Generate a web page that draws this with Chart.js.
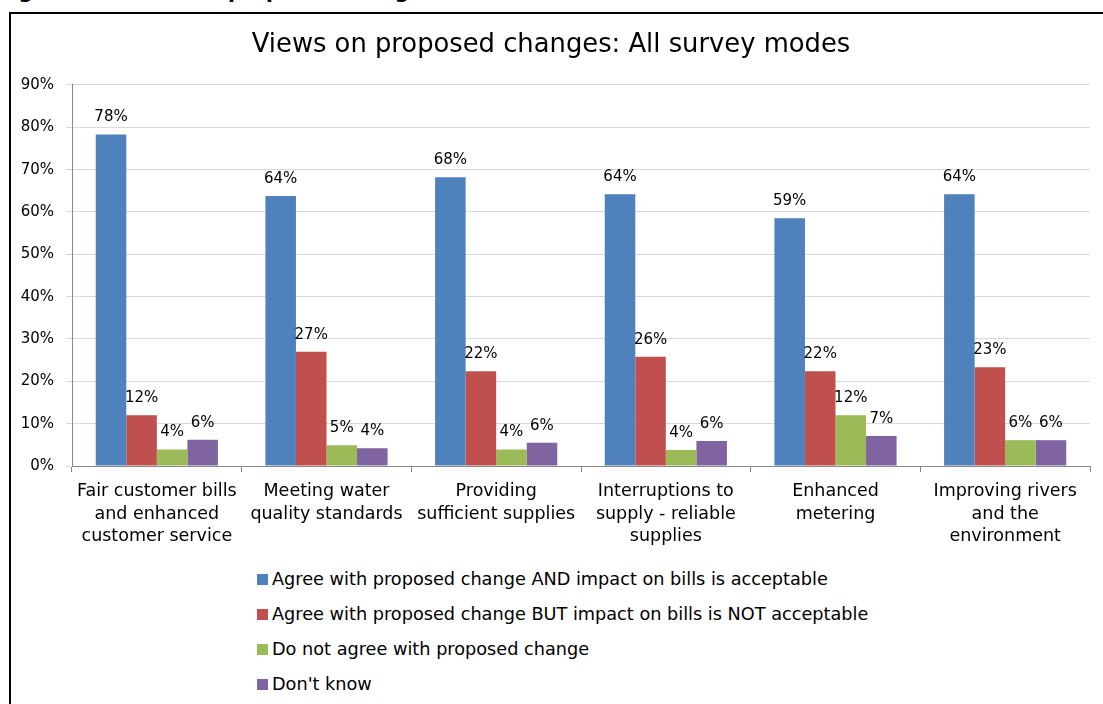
<!DOCTYPE html>
<html>
<head>
<meta charset="utf-8">
<script src="https://cdn.jsdelivr.net/npm/chart.js@4/dist/chart.umd.min.js"></script>
<style>
  body { margin: 0; background: #fff; width: 1103px; height: 704px; overflow: hidden; position: relative; font-family: "DejaVu Sans", sans-serif; }
  #caption { position: absolute; left: -2px; top: -21px; font: bold 20px "DejaVu Sans", sans-serif; color: #000; white-space: nowrap; }
  #frame { position: absolute; left: 9px; top: 12px; width: 1200px; height: 800px; border: 2px solid #000; }
  #healthChart { position: absolute; left: 12px; top: 14px; }
  #legendContainer { position: absolute; left: 257px; top: 566px; }
  .legend-item { height: 35px; line-height: 26px; font-size: 17.7px; color: #000; white-space: nowrap; }
  .legend-color { display: inline-block; width: 11px; height: 11px; margin-right: 4px; vertical-align: 0px; }
</style>
</head>
<body>
<div id="caption">Figure 10: Views on proposed changes</div>
<div id="frame"></div>
<canvas id="healthChart" width="1091" height="546"></canvas>
<div id="legendContainer"></div>
<script>
  // categories and series (percent)
  var categories = [
    ['Fair customer bills', 'and enhanced', 'customer service'],
    ['Meeting water', 'quality standards'],
    ['Providing', 'sufficient supplies'],
    ['Interruptions to', 'supply - reliable', 'supplies'],
    ['Enhanced', 'metering'],
    ['Improving rivers', 'and the', 'environment']
  ];
  var seriesNames = [
    'Agree with proposed change AND impact on bills is acceptable',
    'Agree with proposed change BUT impact on bills is NOT acceptable',
    'Do not agree with proposed change',
    "Don't know"
  ];
  var agreeAcceptable = [78.3, 63.8, 68.2, 64.2, 58.5, 64.2];
  var agreeNotAcceptable = [12.0, 27.0, 22.4, 25.8, 22.4, 23.3];
  var notAgree = [3.9, 4.9, 3.9, 3.8, 12.0, 6.1];
  var dontKnow = [6.2, 4.2, 5.5, 5.9, 7.1, 6.1];
  var yTicks = [0, 10, 20, 30, 40, 50, 60, 70, 80, 90];

  var seriesColors = ['#4F81BD', '#C0504D', '#9BBB59', '#8064A2'];
  var seriesData = [agreeAcceptable, agreeNotAcceptable, notAgree, dontKnow];

  // draws the rounded value above each bar
  var valueLabels = {
      id: 'valueLabels',
      afterDatasetsDraw: function(chart) {
          var ctx = chart.ctx;
          ctx.save();
          ctx.font = '15px "DejaVu Sans", sans-serif';
          ctx.fillStyle = '#000';
          ctx.textAlign = 'center';
          ctx.textBaseline = 'alphabetic';
          chart.data.datasets.forEach(function(ds, i) {
              chart.getDatasetMeta(i).data.forEach(function(bar, j) {
                  ctx.fillText(Math.round(ds.data[j]) + '%', bar.x, bar.y - 13);
              });
          });
          ctx.restore();
      }
  };

  var ctx = document.getElementById('healthChart').getContext('2d');
  var chart = new Chart(ctx, {
      type: 'bar',
      data: {
          labels: categories,
          datasets: seriesData.map(function(d, i) {
              return {
                  label: seriesNames[i],
                  data: d,
                  backgroundColor: seriesColors[i],
                  categoryPercentage: 0.72,
                  barPercentage: 1.0
              };
          })
      },
      options: {
          responsive: false,
          animation: false,
          layout: { padding: { left: 0, right: 13, top: 0, bottom: 0 } },
          plugins: {
              legend: { display: false },
              tooltip: { enabled: false },
              title: {
                  display: true,
                  text: 'Views on proposed changes: All survey modes',
                  color: '#000',
                  font: { family: '"DejaVu Sans", sans-serif', size: 25.8, weight: 'normal' },
                  padding: { top: 16, bottom: 24 }
              }
          },
          scales: {
              x: {
                  grid: { display: true, drawOnChartArea: false, drawTicks: true, tickLength: 6, color: '#888' },
                  border: { color: '#888', width: 1 },
                  ticks: {
                      color: '#000',
                      padding: 8,
                      maxRotation: 0,
                      autoSkip: false,
                      font: { family: '"DejaVu Sans", sans-serif', size: 17.5, lineHeight: 1.3 }
                  },
                  afterFit: function(scale) { scale.height = 94; }
              },
              y: {
                  min: 0,
                  max: 90,
                  afterBuildTicks: function(scale) {
                      scale.ticks = yTicks.map(function(v) { return { value: v }; });
                  },
                  grid: { color: '#d9d9d9', tickLength: 6 },
                  border: { color: '#888', width: 1 },
                  ticks: {
                      color: '#000',
                      padding: 12,
                      font: { family: '"DejaVu Sans", sans-serif', size: 15 },
                      callback: function(v) { return v + '%'; }
                  },
                  afterFit: function(scale) { scale.width = 60; }
              }
          }
      },
      plugins: [valueLabels]
  });

  // legend built in the page, stacked like the original
  var legendContainer = document.getElementById('legendContainer');
  chart.data.datasets.forEach(function(ds) {
      var legendItem = document.createElement('div');
      legendItem.classList.add('legend-item');
      var legendColor = document.createElement('span');
      legendColor.classList.add('legend-color');
      legendColor.style.backgroundColor = ds.backgroundColor;
      legendItem.appendChild(legendColor);
      legendItem.appendChild(document.createTextNode(ds.label));
      legendContainer.appendChild(legendItem);
  });
</script>
</body>
</html>
